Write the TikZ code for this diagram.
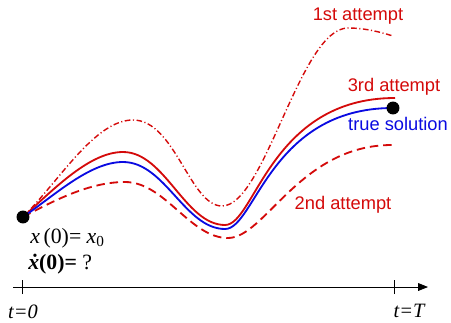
\documentclass[tikz,border=0pt]{standalone}
\usepackage{amsmath}
\usepackage{fontspec}
\setmainfont{Liberation Serif}
\newfontfamily\labelfont{Liberation Sans}
\usetikzlibrary{arrows.meta, positioning}
\definecolor{trialred}{RGB}{212,10,10}
\definecolor{truthblue}{RGB}{10,10,225}

\begin{document}
\begin{tikzpicture}[
    x=0.025cm, y=-0.025cm,
    >={Triangle[length=7pt,width=5.5pt]},
    every node/.style={inner sep=0pt},
    attempt/.style={font=\labelfont\fontsize{13}{15}\selectfont, text=trialred},
    condlbl/.style={font=\fontsize{15.5}{17}\selectfont, anchor=west},
    timelbl/.style={font=\itshape\fontsize{14.5}{16}\selectfont},
    trajectory/.style={line width=1.3pt},
    endpoint/.style={circle, fill=black, minimum size=9.2pt}
  ]
  \useasboundingbox (0,0) rectangle (451,322);

  % end points of the trajectories
  \coordinate (x0) at (23,217);
  \coordinate (xT) at (393,108);
  \coordinate (end1) at (393,36);
  \coordinate (end2) at (392,145);
  \coordinate (end3) at (395,98);

  % time axis
  \coordinate (axL) at (13,287);
  \coordinate (axR) at (428,287);
  \coordinate (t0) at (22,287);
  \coordinate (tT) at (394,287);
  \draw[line width=0.6pt, ->] (axL) -- (axR);
  \draw[line width=0.6pt] ([yshift=-5]t0) -- ([yshift=5]t0);
  \draw[line width=0.6pt] ([yshift=-5]tT) -- ([yshift=5]tT);
  \node[timelbl] (lt0) at (23,312) {t=0};
  \node[timelbl] (ltT) at (409,311) {t=T};

  % 1st attempt
  \draw[trajectory, trialred, line width=1pt,
        dash pattern=on 4pt off 1.8pt on 0.8pt off 1.8pt]
    (x0) .. controls (60,180) and (95,120) .. (133,120)
         .. controls (175,120) and (190,206) .. (222,206)
         .. controls (265,206) and (300,28) .. (348,28)
         .. controls (365,28) and (380,32) .. (end1);
  % 2nd attempt
  \draw[trajectory, trialred, dash pattern=on 6pt off 3.5pt]
    (x0) .. controls (55,200) and (90,182) .. (125,182)
         .. controls (165,182) and (190,238) .. (228,238)
         .. controls (265,238) and (300,145) .. (end2);
  % 3rd attempt
  \draw[trajectory, trialred]
    (x0) .. controls (55,188) and (90,152) .. (123,152)
         .. controls (165,152) and (185,225) .. (225,225)
         .. controls (255,225) and (270,98) .. (end3);
  % true solution
  \draw[trajectory, truthblue]
    (x0) .. controls (55,195) and (90,162) .. (123,162)
         .. controls (165,162) and (185,229) .. (225,229)
         .. controls (255,229) and (270,108) .. (xT);

  \node[endpoint] (dot0) at (x0) {};
  \node[endpoint] (dotT) at (xT) {};

  \node[attempt] (l1) at (358,16) {1st attempt};
  \node[attempt] (l2) at (343,205) {2nd attempt};
  \node[attempt] (l3) at (394,87) {3rd attempt};
  \node[attempt, text=truthblue] (ltrue) at (398,124) {true solution};

  \node[condlbl] (ic1) at (30,238) {\textit{x}\,(0)=\ \textit{x}\textsubscript{0}};
  \node[condlbl] (ic2) at (28,264) {\textbf{\textit{ẋ}(0)=} ?};
\end{tikzpicture}
\end{document}
